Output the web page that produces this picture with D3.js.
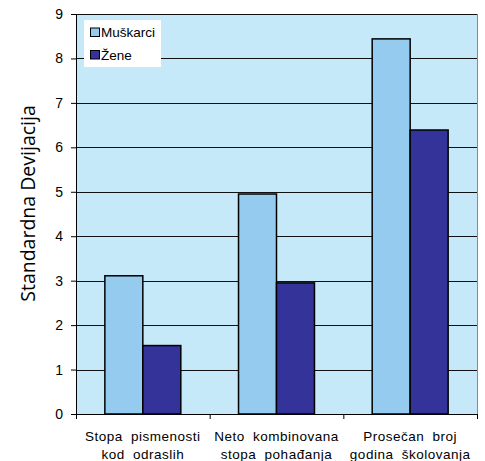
<!DOCTYPE html>
<html lang="en">
<head>
<meta charset="utf-8">
<title>Standardna Devijacija</title>
<script src="https://cdn.jsdelivr.net/npm/d3@7"></script>
<style>
  body { margin: 0; background: #fff; }
  .axis text { font-family: "Liberation Sans", Arial, sans-serif; font-size: 14px; fill: #000; }
  .axis path, .axis line { stroke: #000; }
  .legend { font-family: "Liberation Sans", Arial, sans-serif; font-size: 13.5px; fill: #000; }
  .ytitle { font-family: "Open Sans", "Noto Sans", sans-serif; font-size: 19.5px; fill: #000; text-anchor: middle; }
  .xlab { font-family: "Liberation Sans", Arial, sans-serif; font-size: 13.5px; fill: #000; text-anchor: middle; word-spacing: 4px; letter-spacing: 0.5px; }
</style>
</head>
<body>
<script>
var categories = [["Stopa pismenosti", "kod odraslih"],
                  ["Neto kombinovana", "stopa pohađanja"],
                  ["Prosečan broj", "godina školovanja"]];
var series = ["Muškarci", "Žene"];
var muskarci = [3.11, 4.95, 8.44];
var zene = [1.54, 2.95, 6.39];
var yTicks = [0, 1, 2, 3, 4, 5, 6, 7, 8, 9];
var colors = ["#95cbee", "#333399"];

var w = 485, h = 461;
var padL = 76, padR = 477, padT = 14, padB = 414;

var svg = d3.select("body").append("svg").attr("width", w).attr("height", h);

var x0 = d3.scaleBand().domain(d3.range(categories.length)).range([padL, padR]);
var x1 = d3.scaleBand().domain(series).range([0, x0.bandwidth()]).paddingOuter(0.76).paddingInner(0);
var y = d3.scaleLinear().domain([0, 9]).range([padB, padT]);

// plot background
svg.append("rect").attr("x", padL).attr("y", padT)
   .attr("width", padR - padL).attr("height", padB - padT)
   .attr("fill", "#c6e9f9");

// right border
svg.append("line").attr("x1", padR + 0.5).attr("x2", padR + 0.5).attr("y1", padT).attr("y2", padB)
   .attr("stroke", "#8a8a8a").attr("stroke-width", 1);

// gridlines
svg.selectAll(".grid").data(yTicks.slice(1)).enter().append("line")
   .attr("x1", padL).attr("x2", padR)
   .attr("y1", function(d) { return Math.round(y(d)) + 0.5; })
   .attr("y2", function(d) { return Math.round(y(d)) + 0.5; })
   .attr("stroke", "#111").attr("stroke-width", 1);

// bars
var data = categories.map(function(c, i) { return [muskarci[i], zene[i]]; });
var groups = svg.selectAll(".grp").data(data).enter().append("g")
   .attr("transform", function(d, i) { return "translate(" + x0(i) + ",0)"; });
groups.selectAll("rect").data(function(d) { return d; }).enter().append("rect")
   .attr("x", function(d, i) { return x1(series[i]); })
   .attr("y", function(d) { return y(d); })
   .attr("width", x1.bandwidth())
   .attr("height", function(d) { return y(0) - y(d); })
   .attr("fill", function(d, i) { return colors[i]; })
   .attr("stroke", "#000").attr("stroke-width", 1.5);

// axes
var yAxis = d3.axisLeft(y).tickValues(yTicks).tickSize(5).tickSizeOuter(0).tickPadding(8);
svg.append("g").attr("class", "axis").attr("transform", "translate(" + padL + ",0)").call(yAxis);

var xTickScale = d3.scaleLinear().domain([0, 3]).range([padL, padR]);
var xAxis = d3.axisBottom(xTickScale).tickValues([0, 1, 2, 3]).tickFormat("").tickSize(5).tickSizeOuter(0);
svg.append("g").attr("class", "axis").attr("transform", "translate(0," + padB + ")").call(xAxis);

// category labels
categories.forEach(function(lines, i) {
  var cx = x0(i) + x0.bandwidth() / 2;
  var t = svg.append("text").attr("class", "xlab").attr("x", cx).attr("y", 441);
  lines.forEach(function(s, j) {
    t.append("tspan").attr("x", cx).attr("dy", j === 0 ? 0 : 17.5).text(s);
  });
});

// y title
svg.append("text").attr("class", "ytitle")
   .attr("transform", "translate(35,203.5) rotate(-90)")
   .text("Standardna Devijacija");

// legend
var lg = svg.append("g").attr("transform", "translate(84,20)");
lg.append("rect").attr("width", 77).attr("height", 47).attr("fill", "#fff");
lg.selectAll(".sw").data(series).enter().append("rect")
   .attr("x", 6.5).attr("y", function(d, i) { return 8 + 22.5 * i; })
   .attr("width", 9).attr("height", 8.5)
   .attr("fill", function(d, i) { return colors[i]; })
   .attr("stroke", "#000").attr("stroke-width", 1);
lg.selectAll(".lt").data(series).enter().append("text").attr("class", "legend")
   .attr("x", 17).attr("y", function(d, i) { return 17 + 22.5 * i; })
   .text(function(d) { return d; });
</script>
</body>
</html>
